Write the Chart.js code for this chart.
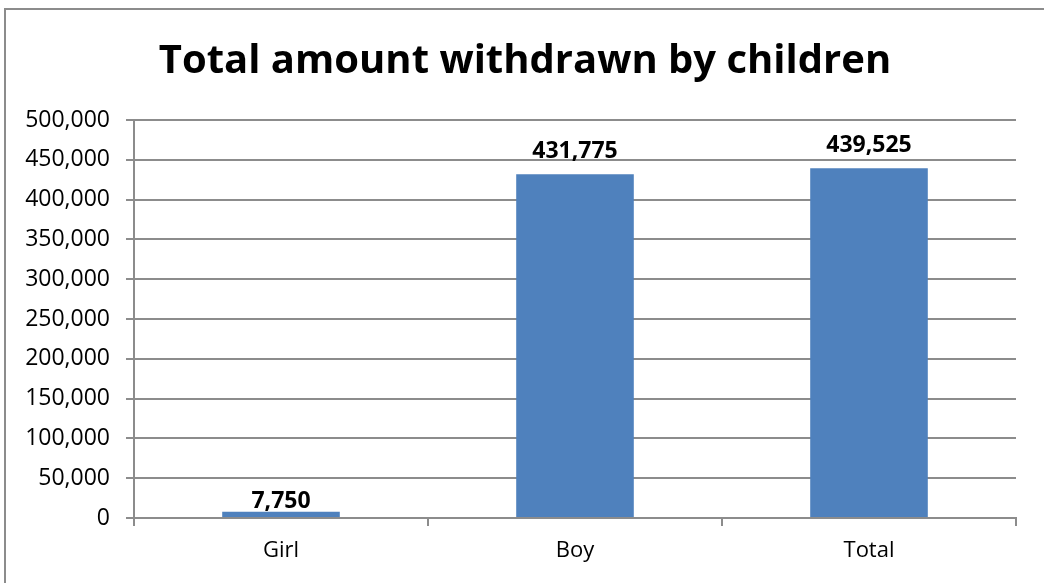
<!DOCTYPE html>
<html>
<head>
<meta charset="utf-8">
<title>Total amount withdrawn by children</title>
<script src="https://cdn.jsdelivr.net/npm/chart.js@4"></script>
<style>
  html, body { margin: 0; padding: 0; background: #fff; }
  canvas { display: block; }
</style>
</head>
<body>
<canvas id="withdrawn-chart" width="1044" height="583"></canvas>
<script>
// data
const categories = ['Girl', 'Boy', 'Total'];
const amounts = [7750, 431775, 439525];
const yTicks = [0, 50000, 100000, 150000, 200000, 250000, 300000, 350000, 400000, 450000, 500000];
const chartTitle = 'Total amount withdrawn by children';

const fontFamily = "'Open Sans', sans-serif";
const fmt = v => v.toLocaleString('en-US');

// outer frame + title (title centred on the whole frame, not the plot)
const frame = {
    id: 'frame',
    beforeDraw(chart) {
        const ctx = chart.ctx
        ctx.save()
        ctx.strokeStyle = '#8c8c8c'
        ctx.lineWidth = 2
        ctx.beginPath()
        ctx.moveTo(5, chart.height + 5)
        ctx.lineTo(5, 9)
        ctx.lineTo(chart.width + 5, 9)
        ctx.stroke()

        ctx.font = 'bold 40px ' + fontFamily
        ctx.fillStyle = '#000'
        ctx.textAlign = 'center'
        ctx.textBaseline = 'alphabetic'
        ctx.fillText(chartTitle, (chart.width + 6) / 2, 73)
        ctx.restore()
    }
}

// value labels above each bar (short bars get the label tucked closer)
const valueLabels = {
    id: 'valueLabels',
    afterDatasetsDraw(chart) {
        const ctx = chart.ctx
        const meta = chart.getDatasetMeta(0)
        ctx.save()
        ctx.font = 'bold 23px ' + fontFamily
        ctx.fillStyle = '#000'
        ctx.textAlign = 'center'
        ctx.textBaseline = 'alphabetic'
        meta.data.forEach((bar, i) => {
            const gap = bar.height < 20 ? 4 : 16
            ctx.fillText(fmt(amounts[i]), bar.x, bar.y - gap)
        })
        ctx.restore()
    }
}

const withdrawnChart = new Chart(document.getElementById('withdrawn-chart'), {
    type: 'bar',
    data: {
        labels: categories,
        datasets: [{
            data: amounts,
            backgroundColor: '#4f81bd',
            barPercentage: 0.4,
            categoryPercentage: 1
        }]
    },
    options: {
        responsive: false,
        animation: false,
        layout: { padding: { left: 0, right: 28, top: 120, bottom: 0 } },
        plugins: {
            legend: { display: false },
            tooltip: { enabled: false },
            title: { display: false }
        },
        scales: {
            x: {
                grid: { drawOnChartArea: false, drawTicks: true, tickLength: 8, color: '#8c8c8c', lineWidth: 2 },
                border: { color: '#8c8c8c', width: 2 },
                ticks: { color: '#000', font: { family: fontFamily, size: 22 }, padding: 12 },
                afterFit(scale) { scale.height = 65 }
            },
            y: {
                min: 0,
                max: 500000,
                afterBuildTicks(scale) { scale.ticks = yTicks.map(v => ({ value: v })) },
                grid: { color: '#8c8c8c', lineWidth: 2, tickLength: 8 },
                border: { color: '#8c8c8c', width: 2 },
                ticks: { color: '#000', font: { family: fontFamily, size: 23 }, padding: 16, callback: v => fmt(v) },
                afterFit(scale) { scale.width = 134 }
            }
        }
    },
    plugins: [frame, valueLabels]
})
</script>
</body>
</html>
